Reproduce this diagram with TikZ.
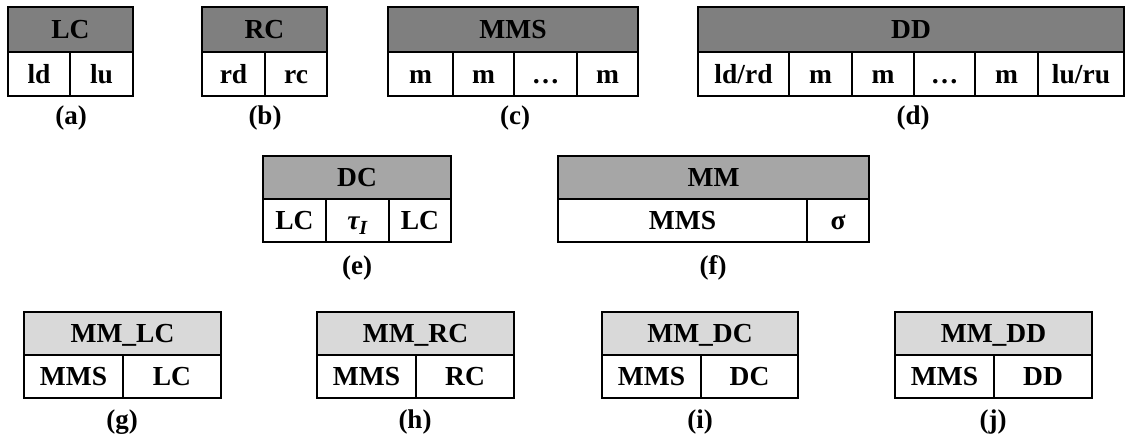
\documentclass[tikz,border=0pt]{standalone}
\usepackage{fontspec}
\setmainfont{Liberation Serif}
\definecolor{gA}{HTML}{7F7F7F}
\definecolor{gB}{HTML}{A6A6A6}
\definecolor{gC}{HTML}{D9D9D9}
\tikzset{
  rec/.style={draw=black, line width=2.4pt, inner sep=0pt, text height=18pt, text depth=0pt,
    font=\fontsize{27.5}{30}\selectfont\bfseries},
  hA/.style={rec, fill=gA},
  hB/.style={rec, fill=gB},
  hC/.style={rec, fill=gC},
  body/.style={rec, fill=white},
  caplabel/.style={inner sep=0pt, font=\fontsize{27}{30}\selectfont\bfseries}
}
\newcommand{\rcell}[7]{\node[#6, minimum width={(#3-#2)*1pt}, minimum height={(#5-#4)*1pt}] (#1) at ({(#2+#3)/2},{(#4+#5)/2}) {#7};}
\begin{document}
\begin{tikzpicture}[x=1pt,y=-1pt]
\path[use as bounding box] (0,0) rectangle (1126,440);
% (a) LC
\rcell{lc}{8}{133}{7}{52}{hA}{LC}
\rcell{lca}{8}{70}{52}{96}{body}{ld}
\rcell{lcb}{70}{133}{52}{96}{body}{lu}
\node[caplabel] (capa) at (71,118) {(a)};
% (b) RC
\rcell{rc}{202}{327}{7}{52}{hA}{RC}
\rcell{rca}{202}{265}{52}{96}{body}{rd}
\rcell{rcb}{265}{327}{52}{96}{body}{rc}
\node[caplabel] (capb) at (265,118) {(b)};
% (c) MMS
\rcell{mms}{388}{638}{7}{52}{hA}{MMS}
\rcell{mmsa}{388}{453}{52}{96}{body}{m}
\rcell{mmsb}{453}{514}{52}{96}{body}{m}
\rcell{mmsc}{514}{577}{52}{96}{body}{…}
\rcell{mmsd}{577}{638}{52}{96}{body}{m}
\node[caplabel] (capc) at (515,118) {(c)};
% (d) DD
\rcell{dd}{698}{1124}{7}{52}{hA}{DD}
\rcell{dda}{698}{789}{52}{96}{body}{ld/rd}
\rcell{ddb}{789}{852}{52}{96}{body}{m}
\rcell{ddc}{852}{914}{52}{96}{body}{m}
\rcell{ddd}{914}{975}{52}{96}{body}{…}
\rcell{dde}{975}{1038}{52}{96}{body}{m}
\rcell{ddf}{1038}{1124}{52}{96}{body}{lu/ru}
\node[caplabel] (capd) at (913,118) {(d)};
% (e) DC
\rcell{dc}{263}{451}{156}{199}{hB}{DC}
\rcell{dca}{263}{326}{199}{242}{body}{LC}
\rcell{dcb}{326}{389}{199}{242}{body}{{\itshape τ\textsubscript{\fontsize{20}{22}\selectfont I}}}
\rcell{dcc}{389}{451}{199}{242}{body}{LC}
\node[caplabel] (cape) at (357,268) {(e)};
% (f) MM
\rcell{mm}{558}{869}{156}{199}{hB}{MM}
\rcell{mma}{558}{807}{199}{242}{body}{MMS}
\rcell{mmb}{807}{869}{199}{242}{body}{σ}
\node[caplabel] (capf) at (713,268) {(f)};
% (g) MM_LC
\rcell{mmlc}{24}{221}{312}{355}{hC}{MM\_LC}
\rcell{mmlca}{24}{123}{355}{398}{body}{MMS}
\rcell{mmlcb}{123}{221}{355}{398}{body}{LC}
\node[caplabel] (capg) at (122,422) {(g)};
% (h) MM_RC
\rcell{mmrc}{317}{514}{312}{355}{hC}{MM\_RC}
\rcell{mmrca}{317}{416}{355}{398}{body}{MMS}
\rcell{mmrcb}{416}{514}{355}{398}{body}{RC}
\node[caplabel] (caph) at (415,422) {(h)};
% (i) MM_DC
\rcell{mmdc}{602}{798}{312}{355}{hC}{MM\_DC}
\rcell{mmdca}{602}{701}{355}{398}{body}{MMS}
\rcell{mmdcb}{701}{798}{355}{398}{body}{DC}
\node[caplabel] (capi) at (700,422) {(i)};
% (j) MM_DD
\rcell{mmdd}{895}{1092}{312}{355}{hC}{MM\_DD}
\rcell{mmdda}{895}{994}{355}{398}{body}{MMS}
\rcell{mmddb}{994}{1092}{355}{398}{body}{DD}
\node[caplabel] (capj) at (993,422) {(j)};
\end{tikzpicture}
\end{document}
